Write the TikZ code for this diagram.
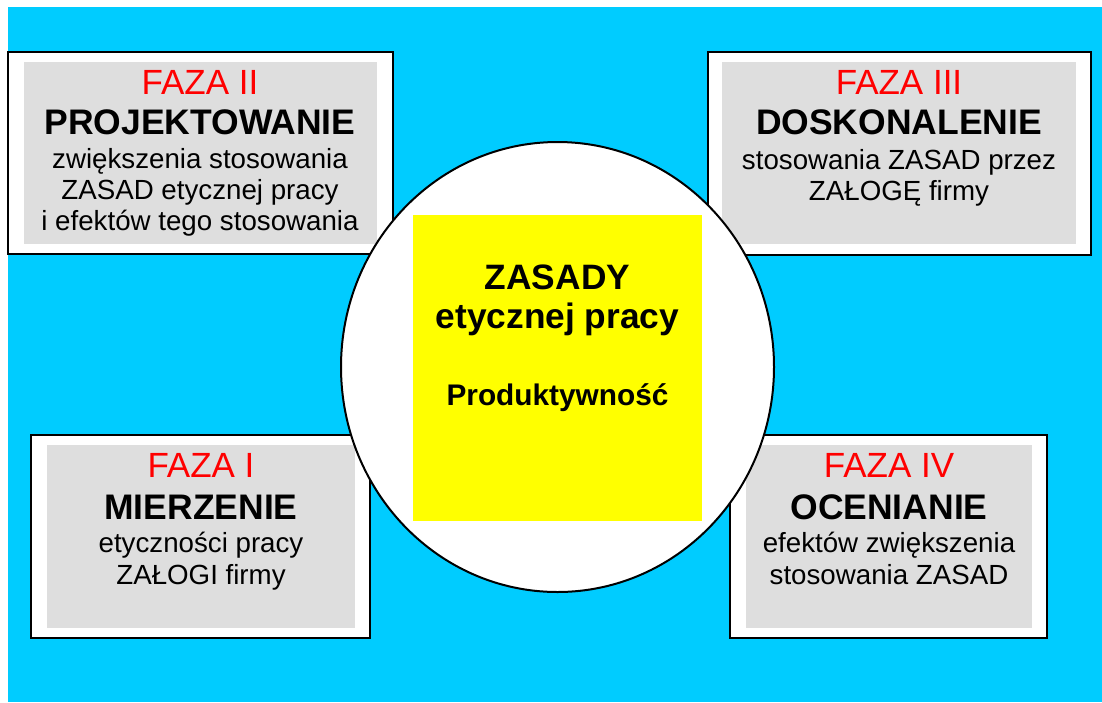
\documentclass[tikz,border=0pt]{standalone}
\usepackage{fontspec}
\setmainfont{Liberation Sans}
\usetikzlibrary{shapes.geometric}
\definecolor{bgcyan}{HTML}{00CCFF}
\definecolor{panelgray}{HTML}{DEDEDE}
\definecolor{fazared}{HTML}{FF0000}
\definecolor{centeryellow}{HTML}{FFFF00}
\begin{document}
\begin{tikzpicture}[x=1pt,y=-1pt,
  every node/.style={inner sep=0pt, outer sep=0pt},
  bgrect/.style={fill=bgcyan, rectangle, anchor=north west},
  outerbox/.style={draw=black, line width=1.6pt, fill=white, rectangle, anchor=north west},
  innerbox/.style={fill=panelgray, rectangle, anchor=north west},
  fazatxt/.style={anchor=base, text=fazared, font=\fontsize{35}{40}\selectfont},
  titletxt/.style={anchor=base, font=\fontsize{35.5}{40}\selectfont\bfseries},
  bodytxt/.style={anchor=base, font=\fontsize{27.7}{32}\selectfont},
  centertxt/.style={anchor=base, font=\fontsize{35.3}{40}\selectfont\bfseries},
  prodtxt/.style={anchor=base, font=\fontsize{29.8}{34}\selectfont\bfseries}]
\useasboundingbox (0,0) rectangle (1102,702);
\node[bgrect, minimum width=1094pt, minimum height=695pt] (bg) at (8,7) {};
% FAZA II (top left)
\node[outerbox, minimum width=385pt, minimum height=202pt] (o2) at (8,52) {};
\node[innerbox, minimum width=353pt, minimum height=182pt] (g2) at (24,62) {};
\node[fazatxt] (f2) at (200,94) {FAZA II};
\node[titletxt] (t2) at (200,134) {PROJEKTOWANIE};
\node[bodytxt] (a2) at (200,168) {zwiększenia stosowania};
\node[bodytxt] (b2) at (200,199) {ZASAD etycznej pracy};
\node[bodytxt] (c2) at (200,230) {i efektów tego stosowania};
% FAZA III (top right)
\node[outerbox, minimum width=383pt, minimum height=203pt] (o3) at (708,52) {};
\node[innerbox, minimum width=354pt, minimum height=182pt] (g3) at (722,62) {};
\node[fazatxt] (f3) at (899,94) {FAZA III};
\node[titletxt] (t3) at (899,134) {DOSKONALENIE};
\node[bodytxt] (a3) at (899,169) {stosowania ZASAD przez};
\node[bodytxt] (b3) at (899,200) {ZAŁOGĘ firmy};
% FAZA I (bottom left)
\node[outerbox, minimum width=339pt, minimum height=203pt] (o1) at (31,435) {};
\node[innerbox, minimum width=308pt, minimum height=183pt] (g1) at (47,445) {};
\node[fazatxt] (f1) at (201,477) {FAZA I};
\node[titletxt] (t1) at (201,519) {MIERZENIE};
\node[bodytxt] (a1) at (201,552) {etyczności pracy};
\node[bodytxt] (b1) at (201,584) {ZAŁOGI firmy};
% FAZA IV (bottom right)
\node[outerbox, minimum width=317pt, minimum height=203pt] (o4) at (730,435) {};
\node[innerbox, minimum width=286pt, minimum height=183pt] (g4) at (746,445) {};
\node[fazatxt] (f4) at (889,477) {FAZA IV};
\node[titletxt] (t4) at (889,519) {OCENIANIE};
\node[bodytxt] (a4) at (889,552) {efektów zwiększenia};
\node[bodytxt] (b4) at (889,584) {stosowania ZASAD};
% centre
\node[ellipse, draw=black, line width=2pt, fill=white, minimum width=433pt, minimum height=450pt] (circ) at (557.5,367) {};
\node[rectangle, fill=centeryellow, anchor=north west, minimum width=289pt, minimum height=306pt] (ybox) at (413,215) {};
\node[centertxt] (z1) at (557.5,289) {ZASADY};
\node[centertxt] (z2) at (557.5,328) {etycznej pracy};
\node[prodtxt] (z3) at (557.5,405) {Produktywność};
\end{tikzpicture}
\end{document}
